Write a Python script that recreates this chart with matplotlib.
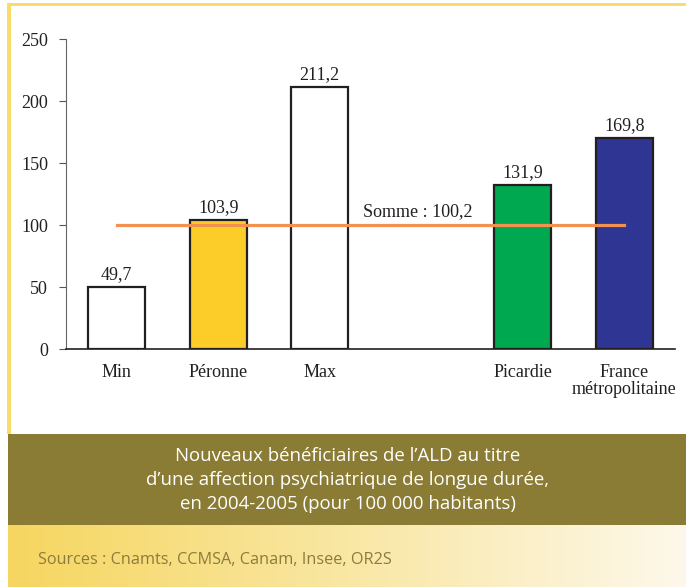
import numpy as np
import matplotlib
matplotlib.use("Agg")
from matplotlib import pyplot as plt
from matplotlib.patches import Rectangle
from matplotlib.colors import LinearSegmentedColormap

categories = ["Min", "Péronne", "Max", "", "Picardie", "France\nmétropolitaine"]
values = [49.7, 103.9, 211.2, np.nan, 131.9, 169.8]
labels = ["49,7", "103,9", "211,2", "", "131,9", "169,8"]
colors = ["white", "#fccd28", "white", "white", "#00a84f", "#2e3592"]
somme = 100.2
somme_label = "Somme : 100,2"
title_lines = "Nouveaux bénéficiaires de l’ALD au titre\nd’une affection psychiatrique de longue durée,\nen 2004-2005 (pour 100 000 habitants)"
sources = "Sources : Cnamts, CCMSA, Canam, Insee, OR2S"

W, H = 686, 587
fig = plt.figure(figsize=(W / 100, H / 100), dpi=100)

# cadre de fond, en pixels
bg = fig.add_axes([0, 0, 1, 1])
bg.add_patch(Rectangle((7, 3), W, 431, color="#f9dc6a", lw=0))
bg.add_patch(Rectangle((11, 6), W, 428, color="white", lw=0))
bg.add_patch(Rectangle((8, 434), W, 91, color="#8b7c35", lw=0))
grad = LinearSegmentedColormap.from_list("g", ["#f6d660", "#f9e7a4", "#fdf8ea"])
bg.imshow(np.linspace(0, 1, 256).reshape(1, -1), cmap=grad, aspect="auto",
          extent=(8, W, H, 525), zorder=1)
bg.set_xlim(0, W)
bg.set_ylim(H, 0)
bg.axis("off")

title = bg.text(348, 480, title_lines, color="white", ha="center", va="center",
                fontsize=12.5, family="Open Sans", linespacing=1.45)
src = bg.text(38, 560, sources, color="#8b7c3c", ha="left", va="center",
              fontsize=10.5, family="Open Sans")

# ajuster la taille des textes a la largeur de l'original
r = fig.canvas.get_renderer()
for t, target in [(src, 355), (title, 404)]:
    w = t.get_window_extent(r).width
    t.set_fontsize(t.get_fontsize() * target / w)

# graphique
ax = fig.add_axes([66 / W, 1 - 349 / H, (675 - 66) / W, (349 - 39) / H])
ax.patch.set_alpha(0)
x = np.arange(len(categories))
ax.bar(x, values, width=0.56, color=colors, edgecolor="#231f20", linewidth=1.6, zorder=2)
for xi, v, lab in zip(x, values, labels):
    if lab:
        ax.annotate(lab, (xi, v), xytext=(0, 3), textcoords="offset points",
                    ha="center", va="bottom", family="Liberation Serif", fontsize=13,
                    color="#231f20")
ax.plot([x[0], x[-1]], [somme, somme], color="#f39150", lw=2.3, zorder=3)
ax.annotate(somme_label, (2.97, somme), xytext=(0, 6), textcoords="offset points",
            ha="center", va="baseline", family="Liberation Serif", fontsize=13,
            color="#231f20")

ax.set_xlim(-0.5, len(categories) - 0.5)
ax.set_ylim(0, 250)
ax.set_yticks([0, 50, 100, 150, 200, 250])
ax.set_xticks(x)
ax.set_xticklabels(categories, family="Liberation Serif", fontsize=13, color="#231f20",
                   linespacing=1.0)
ax.tick_params(axis="x", length=0, pad=11)
ax.tick_params(axis="y", length=5, direction="out", color="#555555", pad=8)
for t in ax.get_yticklabels():
    t.set_family("Liberation Serif")
    t.set_fontsize(13)
    t.set_color("#231f20")
for s in ["top", "right"]:
    ax.spines[s].set_visible(False)
ax.spines["left"].set_color("#666666")
ax.spines["bottom"].set_color("#231f20")
ax.spines["bottom"].set_linewidth(1.2)

fig.savefig("out.png", dpi=100)
